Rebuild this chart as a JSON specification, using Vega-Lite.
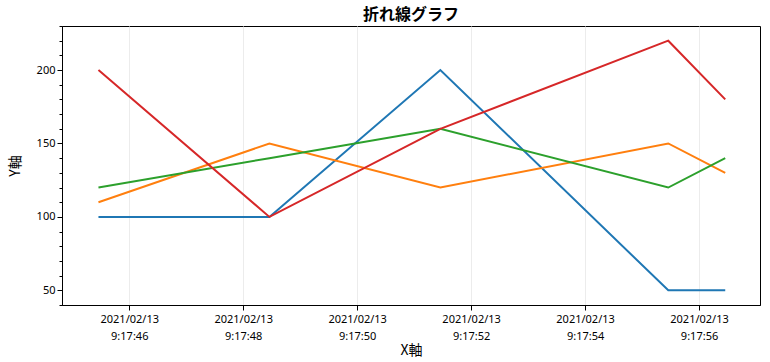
{
  "$schema": "https://vega.github.io/schema/vega-lite/v6.json",
  "autosize": "none",
  "width": 698,
  "height": 279,
  "padding": {"left": 62, "top": 26, "right": 10, "bottom": 57},
  "background": "white",
  "config": {
    "view": {"stroke": "black", "strokeWidth": 1},
    "font": "Noto Sans",
    "axis": {"labelFont": "Noto Sans", "titleFont": "Noto Sans CJK JP"}
  },
  "title": {
    "text": "折れ線グラフ",
    "font": "Noto Sans CJK JP",
    "fontSize": 16,
    "fontWeight": "bold",
    "color": "black",
    "anchor": "middle",
    "offset": 3
  },
  "data": {
    "values": [
      {"series": "A", "time": "2021-02-13T09:17:45.460Z", "value": 100},
      {"series": "A", "time": "2021-02-13T09:17:48.460Z", "value": 100},
      {"series": "A", "time": "2021-02-13T09:17:51.460Z", "value": 200},
      {"series": "A", "time": "2021-02-13T09:17:55.460Z", "value": 50},
      {"series": "A", "time": "2021-02-13T09:17:56.460Z", "value": 50},
      {"series": "B", "time": "2021-02-13T09:17:45.460Z", "value": 110},
      {"series": "B", "time": "2021-02-13T09:17:48.460Z", "value": 150},
      {"series": "B", "time": "2021-02-13T09:17:51.460Z", "value": 120},
      {"series": "B", "time": "2021-02-13T09:17:55.460Z", "value": 150},
      {"series": "B", "time": "2021-02-13T09:17:56.460Z", "value": 130},
      {"series": "C", "time": "2021-02-13T09:17:45.460Z", "value": 120},
      {"series": "C", "time": "2021-02-13T09:17:48.460Z", "value": 140},
      {"series": "C", "time": "2021-02-13T09:17:51.460Z", "value": 160},
      {"series": "C", "time": "2021-02-13T09:17:55.460Z", "value": 120},
      {"series": "C", "time": "2021-02-13T09:17:56.460Z", "value": 140},
      {"series": "D", "time": "2021-02-13T09:17:45.460Z", "value": 200},
      {"series": "D", "time": "2021-02-13T09:17:48.460Z", "value": 100},
      {"series": "D", "time": "2021-02-13T09:17:51.460Z", "value": 160},
      {"series": "D", "time": "2021-02-13T09:17:55.460Z", "value": 220},
      {"series": "D", "time": "2021-02-13T09:17:56.460Z", "value": 180}
    ]
  },
  "resolve": {"axis": {"y": "independent"}},
  "layer": [
    {
      "mark": {"type": "rule", "opacity": 0},
      "encoding": {
        "y": {
          "field": "value",
          "type": "quantitative",
          "scale": {"domain": [40, 230], "nice": false, "zero": false},
          "axis": {
            "orient": "left",
            "values": [40, 50, 60, 70, 80, 90, 100, 110, 120, 130, 140, 150, 160, 170, 180, 190, 200, 210, 220, 230],
            "labels": false,
            "title": null,
            "grid": false,
            "domain": false,
            "tickSize": 3,
            "tickColor": "black",
            "tickWidth": 1
          }
        }
      }
    },
    {
      "mark": {"type": "line", "strokeWidth": 2},
      "encoding": {
        "x": {
          "field": "time",
          "type": "temporal",
          "scale": {
            "type": "utc",
            "domain": [
              {"year": 2021, "month": 2, "date": 13, "hours": 9, "minutes": 17, "seconds": 44, "milliseconds": 820, "utc": true},
              {"year": 2021, "month": 2, "date": 13, "hours": 9, "minutes": 17, "seconds": 57, "milliseconds": 70, "utc": true}
            ],
            "nice": false
          },
          "axis": {
            "title": "X軸",
            "titleFontSize": 14,
            "titleFontWeight": "normal",
            "titleColor": "black",
            "titlePadding": 2,
            "values": [
              {"year": 2021, "month": 2, "date": 13, "hours": 9, "minutes": 17, "seconds": 46, "utc": true},
              {"year": 2021, "month": 2, "date": 13, "hours": 9, "minutes": 17, "seconds": 48, "utc": true},
              {"year": 2021, "month": 2, "date": 13, "hours": 9, "minutes": 17, "seconds": 50, "utc": true},
              {"year": 2021, "month": 2, "date": 13, "hours": 9, "minutes": 17, "seconds": 52, "utc": true},
              {"year": 2021, "month": 2, "date": 13, "hours": 9, "minutes": 17, "seconds": 54, "utc": true},
              {"year": 2021, "month": 2, "date": 13, "hours": 9, "minutes": 17, "seconds": 56, "utc": true}
            ],
            "labelExpr": "[utcFormat(datum.value, '%Y/%m/%d'), utcFormat(datum.value, '%-H:%M:%S')]",
            "labelFontSize": 11,
            "labelColor": "black",
            "labelLineHeight": 17,
            "labelPadding": 3,
            "tickSize": 5,
            "tickColor": "black",
            "domainColor": "black",
            "gridColor": "#ececec",
            "labelFlush": false,
            "labelOverlap": false
          }
        },
        "y": {
          "field": "value",
          "type": "quantitative",
          "scale": {"domain": [40, 230], "nice": false, "zero": false},
          "axis": {
            "orient": "left",
            "title": "Y軸",
            "titleFontSize": 14,
            "titleFontWeight": "normal",
            "titleColor": "black",
            "titlePadding": 14,
            "values": [50, 100, 150, 200],
            "labelFontSize": 11,
            "labelColor": "black",
            "labelPadding": 2,
            "tickSize": 5,
            "tickColor": "black",
            "domainColor": "black",
            "gridColor": "#ececec"
          }
        },
        "color": {
          "field": "series",
          "type": "nominal",
          "scale": {"domain": ["A", "B", "C", "D"], "range": ["#1f77b4", "#ff7f0e", "#2ca02c", "#d62728"]},
          "legend": null
        }
      }
    }
  ]
}
